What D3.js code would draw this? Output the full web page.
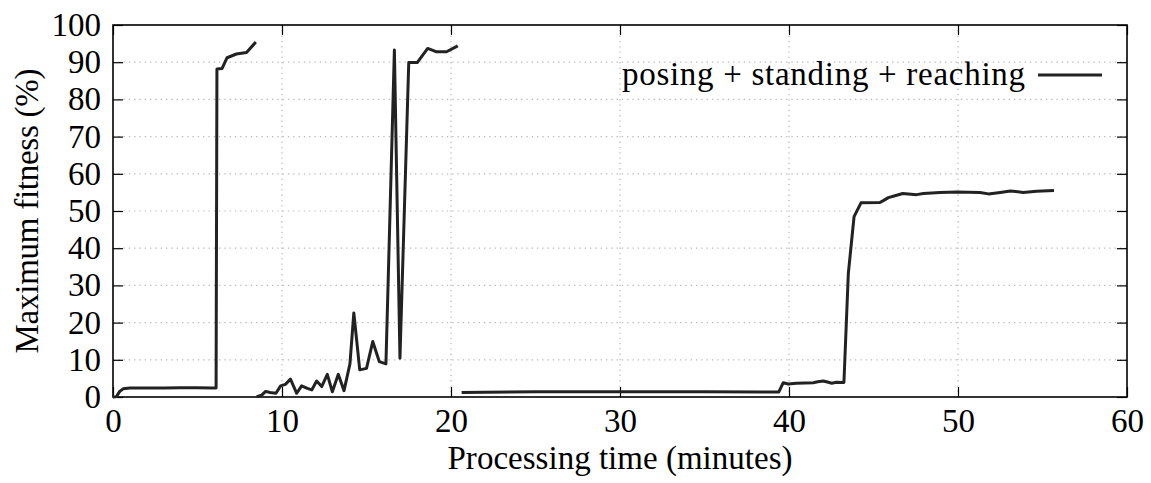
<!DOCTYPE html>
<html>
<head>
<meta charset="utf-8">
<script src="https://cdn.jsdelivr.net/npm/d3@7"></script>
<style>
  body { margin: 0; background: #fff; }
  text { font-family: "Liberation Serif", "DejaVu Serif", serif; fill: #000; }
</style>
</head>
<body>
<script>
// ---- data ----
const run1Time = [0, 0.2, 0.4, 0.6, 1.0, 2.0, 3.0, 4.0, 5.0, 5.9, 6.1, 6.15, 6.45, 6.75, 7.3, 7.9, 8.45];
const run1Fitness = [0, 0.1, 1.5, 2.2, 2.4, 2.4, 2.4, 2.5, 2.5, 2.4, 2.4, 88.2, 88.3, 91.2, 92.2, 92.6, 95.4];

const run2Time = [8.5, 8.8, 9.03, 9.29, 9.64, 9.92, 10.2, 10.5, 10.87, 11.16, 11.5, 11.76, 12.05, 12.35, 12.68, 12.98, 13.33, 13.67, 14.02, 14.25, 14.6, 15.0, 15.37, 15.76, 16.15, 16.65, 16.98, 17.5, 18.0, 18.62, 19.15, 19.74, 20.4];
const run2Fitness = [0.1, 0.5, 1.5, 1.2, 1.0, 3.0, 3.4, 4.8, 1.0, 3.0, 2.3, 1.9, 4.3, 2.8, 6.1, 1.4, 6.1, 1.7, 8.9, 22.6, 7.3, 7.7, 14.9, 9.5, 8.9, 93.3, 10.4, 89.9, 89.9, 93.7, 92.8, 92.8, 94.4];

const run3Time = [20.63, 22, 25, 30, 35, 39.4, 39.66, 39.96, 40.45, 41.44, 41.7, 42.03, 42.33, 42.53, 42.8, 43.25, 43.51, 43.71, 43.85, 44.26, 45.38, 45.58, 45.88, 46.27, 46.73, 47.55, 47.95, 48.93, 49.92, 51.3, 51.8, 52.5, 53.1, 53.86, 54.65, 55.68];
const run3Fitness = [1.2, 1.3, 1.4, 1.4, 1.4, 1.35, 3.85, 3.5, 3.7, 3.85, 4.1, 4.3, 3.95, 3.7, 3.95, 3.9, 33.2, 42.2, 48.5, 52.2, 52.3, 52.8, 53.6, 54.1, 54.7, 54.4, 54.7, 55.0, 55.1, 55.0, 54.6, 55.0, 55.4, 55.0, 55.3, 55.5];

const xTicks = [0, 10, 20, 30, 40, 50, 60];
const yTicks = [0, 10, 20, 30, 40, 50, 60, 70, 80, 90, 100];
const seriesName = "posing + standing + reaching";
const xTitle = "Processing time (minutes)";
const yTitle = "Maximum fitness (%)";

// ---- layout ----
const W = 1151, H = 483;
const L = 113, R = 1127, T = 25, B = 397;
const FS = 33;

const svg = d3.select("body").append("svg").attr("width", W).attr("height", H);
const x = d3.scaleLinear().domain([0, 60]).range([L, R]);
const y = d3.scaleLinear().domain([0, 100]).range([B, T]);

// grid
const grid = svg.append("g").attr("stroke", "#b8b8b8").attr("stroke-width", 1.2).attr("stroke-dasharray", "1.3,4");
grid.selectAll("line.gx").data(xTicks.slice(1, -1)).join("line")
  .attr("x1", d => x(d)).attr("x2", d => x(d)).attr("y1", T).attr("y2", B);
grid.selectAll("line.gy").data(yTicks.slice(1, -1)).join("line")
  .attr("x1", L).attr("x2", R).attr("y1", d => y(d)).attr("y2", d => y(d));

// axes
function styleAxis(g) {
  g.select(".domain").remove();
  g.selectAll(".tick line").attr("stroke", "#000").attr("stroke-width", 1.2);
  g.selectAll("text").attr("font-family", "'Liberation Serif', serif").attr("font-size", FS).attr("fill", "#000");
}
svg.append("g").attr("transform", `translate(0,${B})`)
  .call(d3.axisBottom(x).tickValues(xTicks).tickSizeInner(-10).tickSizeOuter(0).tickPadding(12))
  .call(styleAxis);
svg.append("g").attr("transform", `translate(0,${T})`)
  .call(d3.axisTop(x).tickValues(xTicks).tickSizeInner(-10).tickSizeOuter(0).tickFormat(""))
  .call(styleAxis);
svg.append("g").attr("transform", `translate(${L},0)`)
  .call(d3.axisLeft(y).tickValues(yTicks).tickSizeInner(-10).tickSizeOuter(0).tickPadding(12))
  .call(styleAxis);
svg.append("g").attr("transform", `translate(${R},0)`)
  .call(d3.axisRight(y).tickValues(yTicks).tickSizeInner(-10).tickSizeOuter(0).tickFormat(""))
  .call(styleAxis);

// frame
svg.append("rect").attr("x", L).attr("y", T).attr("width", R - L).attr("height", B - T)
  .attr("fill", "none").attr("stroke", "#000").attr("stroke-width", 1.6);

// data lines
const runs = [
  run1Time.map((t, i) => [t, run1Fitness[i]]),
  run2Time.map((t, i) => [t, run2Fitness[i]]),
  run3Time.map((t, i) => [t, run3Fitness[i]])
];
const line = d3.line().x(d => x(d[0])).y(d => y(d[1]));
svg.append("g").selectAll("path").data(runs).join("path")
  .attr("d", line).attr("fill", "none").attr("stroke", "#222")
  .attr("stroke-width", 3).attr("stroke-linejoin", "round").attr("stroke-linecap", "butt");

// legend
svg.append("text").attr("x", 1025).attr("y", 85).attr("text-anchor", "end")
  .attr("font-size", FS).attr("textLength", 403).attr("lengthAdjust", "spacing").text(seriesName);
svg.append("line").attr("x1", 1038).attr("x2", 1102).attr("y1", 75).attr("y2", 75)
  .attr("stroke", "#222").attr("stroke-width", 3);

// titles
svg.append("text").attr("x", 620).attr("y", 469).attr("text-anchor", "middle")
  .attr("font-size", FS).attr("textLength", 345).attr("lengthAdjust", "spacing").text(xTitle);
svg.append("text").attr("transform", `translate(38,${(T + B) / 2}) rotate(-90)`).attr("text-anchor", "middle")
  .attr("font-size", FS).attr("textLength", 285).attr("lengthAdjust", "spacing").text(yTitle);
</script>
</body>
</html>
